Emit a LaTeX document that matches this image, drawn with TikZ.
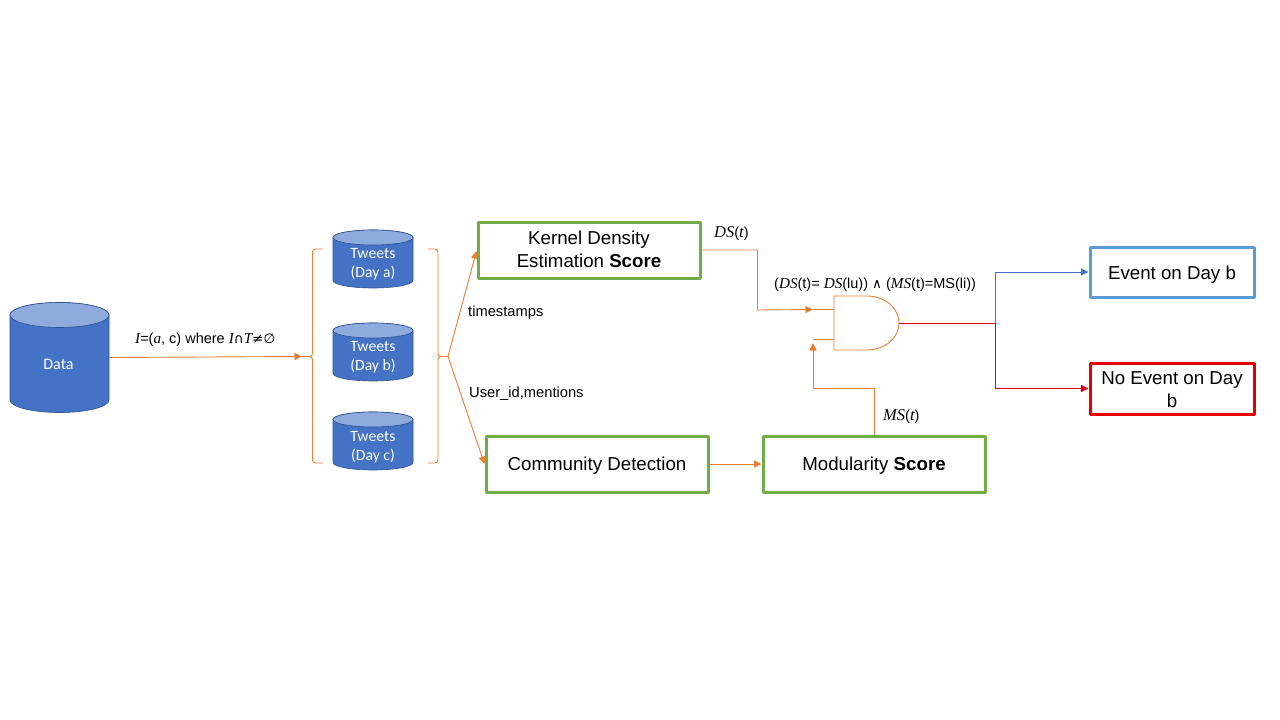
\documentclass[tikz,border=0pt]{standalone}
\usepackage{fontspec}
\setmainfont{Liberation Sans}
\newfontfamily\calib{Carlito}
\newfontfamily\mathser{Liberation Serif}[ItalicFont=* Italic]
\newfontfamily\symb{DejaVu Sans}
\newcommand{\mi}[1]{{\mathser\itshape\fontsize{16.5}{16}\selectfont #1}}
\newcommand{\mis}[1]{{\mathser\itshape\fontsize{15.2}{16}\selectfont #1}}
\newcommand{\sy}[1]{{\symb\fontsize{13.5}{14}\selectfont #1}}
\definecolor{org}{HTML}{ED7D31}
\definecolor{cylfill}{HTML}{4472C4}
\definecolor{cyltop}{HTML}{8FAADC}
\definecolor{cylline}{HTML}{2F528F}
\definecolor{grn}{HTML}{70AD47}
\definecolor{blu}{HTML}{5B9BD5}
\definecolor{lnblu}{HTML}{4472C4}
\definecolor{rd}{HTML}{E60000}
\usetikzlibrary{arrows.meta}
\tikzset{
  x=1pt,y=-1pt,
  conn/.style={draw=org,line width=0.9pt,-{Triangle[length=7.5pt,width=7pt]}},
  wire/.style={draw=org,line width=0.9pt},
  bigtext/.style={font=\fontsize{18.7}{23}\selectfont,align=center,inner sep=0pt},
  scorebox/.style={bigtext,draw=grn,line width=3pt,line join=round,minimum width=222pt,minimum height=56pt},
  evbox/.style={bigtext,line width=3pt,line join=round,minimum width=164pt},
  lbl/.style={font=\fontsize{14.7}{16}\selectfont,inner sep=0pt,anchor=base west},
  mathlbl/.style={font=\fontsize{14.5}{16}\selectfont,inner sep=0pt,anchor=base west},
  cyltext/.style={font=\calib\fontsize{15.7}{19}\selectfont,text=white,align=center,inner sep=0pt},
  pics/cyl/.style args={#1/#2/#3}{code={%
    \path[fill=cylfill,draw=cylline,line width=0.6pt] (-#1,0) -- (-#1,#2) arc[start angle=180,end angle=0,x radius=#1,y radius=#3] -- (#1,0) arc[start angle=0,end angle=-180,x radius=#1,y radius=#3] -- cycle;
    \path[fill=cyltop,draw=cylline,line width=0.6pt] (0,0) circle[x radius=#1,y radius=#3];
  }},
}
\begin{document}
\begin{tikzpicture}
\useasboundingbox (0,0) rectangle (1280,720);
% cylinders
\pic at (59.5,315) {cyl=49.5/85/12.5};
\node[minimum width=99pt,minimum height=110pt,inner sep=0pt] (data) at (59.5,357.5) {};
\node[cyltext,font=\calib\fontsize{16}{19}\selectfont] (datalbl) at (58.5,364) {Data};
\pic at (373,237.5) {cyl=40/43/7.5};
\node[cyltext] (ta) at (373,264.5) {Tweets\\(Day a)};
\pic at (373,330.5) {cyl=40/43/7.5};
\node[cyltext] (tb) at (373,357.5) {Tweets\\(Day b)};
\pic at (373,419.5) {cyl=40/43/7.5};
\node[cyltext] (tc) at (373,447.5) {Tweets\\(Day c)};
% braces
\coordinate (ltip) at (302,356.5);
\coordinate (rtip) at (448,356.5);
\draw[wire,rounded corners=3pt] (323,249) -- (312.5,249) -- (312.5,356.5) -- (ltip);
\draw[wire,rounded corners=3pt] (ltip) -- (312.5,356.5) -- (312.5,463) -- (323,463);
\draw[wire,rounded corners=3pt] (428,249) -- (438,249) -- (438,356.5) -- (rtip);
\draw[wire,rounded corners=3pt] (rtip) -- (438,356.5) -- (438,463) -- (428,463);
% boxes
\node[scorebox] (kde) at (589,250) {Kernel Density\\Estimation \textbf{Score}\rule[-1pt]{0pt}{1pt}};
\node[scorebox] (comm) at (597,464) {\rule{0pt}{16.5pt}Community Detection};
\node[scorebox] (mod) at (874,464) {\rule{0pt}{16.5pt}Modularity \textbf{Score}};
\node[evbox,draw=blu,minimum height=50pt] (ev) at (1172,272) {\rule{0pt}{18.5pt}Event on Day b};
\node[evbox,draw=rd,minimum height=51pt] (nev) at (1172,388.5) {\rule{0pt}{14.5pt}No Event on Day\\b};
% gate
\coordinate (gin1) at (813,309.5);
\coordinate (gin2) at (813,339);
\coordinate (gout) at (899,323);
\coordinate (split) at (995,323);
\draw[wire] (834,296) -- (867,296) arc[start angle=-90,end angle=90,x radius=32,y radius=27] -- (834,350) -- cycle;
\draw[wire] (gin1) -- (834,309.5);
\draw[wire] (gin2) -- (834,339);
% connectors
\draw[conn] (data.east) -- (ltip);
\draw[conn] (rtip) -- (kde.west |- 0,251);
\draw[conn] (rtip) -- (comm.west);
\draw[conn] (comm.east) -- (mod.west);
\draw[conn] (kde.east) -| (757.5,310) -- (gin1);
\draw[conn] (mod.north) |- (813,388) -- (813,343);
\draw[draw=lnblu,line width=0.9pt,-{Triangle[length=7.5pt,width=7pt]}] (split) |- (ev.west);
\draw[draw=rd,line width=0.9pt,-{Triangle[length=7.5pt,width=7pt]}] (split) |- (nev.west);
\draw[draw=rd,line width=0.9pt] (gout) -- (split);
% labels
\node[mathlbl] (l1) at (135,343) {\mis{I}=(\mis{a}, c) where \mis{I}\sy{∩}\mis{T}\sy{≠∅}};
\node[lbl] (l2) at (468,316) {timestamps};
\node[lbl] (l3) at (469,397) {User\_id,mentions};
\node[mathlbl] (l4) at (714,237) {\mi{DS}(\mi{t})};
\node[mathlbl] (l5) at (774,288) {(\mis{DS}(t)= \mis{DS}(lu)) \sy{∧} (\mis{MS}(t)=MS(li))};
\node[mathlbl] (l6) at (883,420) {\mi{MS}(\mi{t})};
\end{tikzpicture}
\end{document}
